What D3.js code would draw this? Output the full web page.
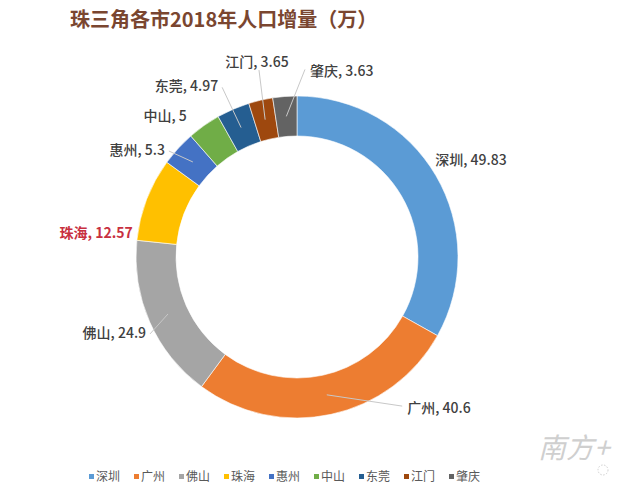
<!DOCTYPE html>
<html>
<head>
<meta charset="utf-8">
<script src="https://cdn.jsdelivr.net/npm/d3@7"></script>
<style>
  body { margin: 0; background: #fff; }
  text { font-family: "Noto Sans CJK SC", "Noto Sans", sans-serif; }
</style>
</head>
<body>
<div id="chart"></div>
<script>
// data
const cities = ["深圳", "广州", "佛山", "珠海", "惠州", "中山", "东莞", "江门", "肇庆"];
const increase = [49.83, 40.6, 24.9, 12.57, 5.3, 5, 4.97, 3.65, 3.63];
const colors = ["#5b9bd5", "#ed7d31", "#a5a5a5", "#ffc000", "#4472c4", "#70ad47", "#255e91", "#9e480e", "#636363"];

// label layout: [angle (deg, clockwise from top), radius, anchor, leader?]
const labelLayout = [
	[54.9, 169, "start", false],
	[143.9, 187, "start", true],
	[243.3, 169, "end", true],
	[278.3, 166, "end", false],
	[309, 170, "end", true],
	[322, 179, "end", false],
	[335.2, 188, "end", true],
	[348.4, 199, "middle", true],
	[4.0, 186, "start", true]
];

let width = 640, height = 500;
let cx = 297, cy = 257;
let outerR = 161, innerR = 121;

let svg = d3.select("#chart").append("svg")
	.attr("width", width)
	.attr("height", height);

//title
svg.append("text")
	.attr("x", 70)
	.attr("y", 27)
	.attr("font-size", 20)
	.attr("font-weight", "bold")
	.attr("fill", "#7a4630")
	.text("珠三角各市2018年人口增量（万）");

let data = cities.map((c, i) => ({city: c, value: increase[i], color: colors[i], layout: labelLayout[i]}));

let pie = d3.pie().value(d => d.value).sort(null);
let arc = d3.arc().innerRadius(innerR).outerRadius(outerR);
let midArc = d3.arc().innerRadius(141).outerRadius(141);

let g = svg.append("g").attr("transform", "translate(" + cx + "," + cy + ")");
let arcs = pie(data);

g.selectAll(".slice")
	.data(arcs)
	.enter()
	.append("path")
	.attr("class", "slice")
	.attr("d", arc)
	.attr("fill", d => d.data.color)
	.attr("stroke", "#fff")
	.attr("stroke-width", 0.6);

function polar(angleDeg, r) {
	let a = angleDeg * Math.PI / 180;
	return [r * Math.sin(a), -r * Math.cos(a)];
}

// leader lines
arcs.forEach(d => {
	let lay = d.data.layout;
	if (!lay[3]) return;
	let p = polar(lay[0], lay[1]);
	let end;
	if (lay[2] == "start") end = [p[0] - 5, p[1] - 2];
	else if (lay[2] == "end") end = [p[0] + 4, p[1] + 1];
	else end = [p[0] + 2, p[1] + 8];
	let c = midArc.centroid(d);
	g.append("line")
		.attr("x1", c[0]).attr("y1", c[1])
		.attr("x2", end[0]).attr("y2", end[1])
		.attr("stroke", "#c8c8c8")
		.attr("stroke-width", 1);
});

// labels
g.selectAll(".label")
	.data(arcs)
	.enter()
	.append("text")
	.attr("class", "label")
	.attr("x", d => polar(d.data.layout[0], d.data.layout[1])[0])
	.attr("y", d => polar(d.data.layout[0], d.data.layout[1])[1])
	.attr("dy", "0.35em")
	.attr("text-anchor", d => d.data.layout[2])
	.attr("font-size", 14)
	.attr("font-weight", d => d.data.city == "珠海" ? "bold" : "500")
	.attr("fill", d => d.data.city == "珠海" ? "#c8303f" : "#404040")
	.text(d => d.data.city + ", " + d.data.value);

// legend
let legendX = d3.scaleBand()
	.domain(cities)
	.range([89, 494]);

let legend = svg.selectAll(".legend")
	.data(data)
	.enter()
	.append("g")
	.attr("class", "legend")
	.attr("transform", d => "translate(" + legendX(d.city) + ",477)");

legend.append("rect")
	.attr("x", 0)
	.attr("y", -3)
	.attr("width", 5)
	.attr("height", 5)
	.attr("fill", d => d.color);

legend.append("text")
	.attr("x", 7)
	.attr("dy", "0.35em")
	.attr("font-size", 12)
	.attr("fill", "#595959")
	.text(d => d.city);

// watermark
svg.append("text")
	.attr("x", 538)
	.attr("y", 458)
	.attr("font-size", 28)
	.attr("fill", "#cfcfcf")
	.attr("font-style", "italic")
	.text("南方+");

svg.append("circle")
	.attr("cx", 603)
	.attr("cy", 470)
	.attr("r", 5)
	.attr("fill", "none")
	.attr("stroke", "#d0d0d0")
	.attr("stroke-dasharray", "1.5,1.5");
</script>
</body>
</html>
